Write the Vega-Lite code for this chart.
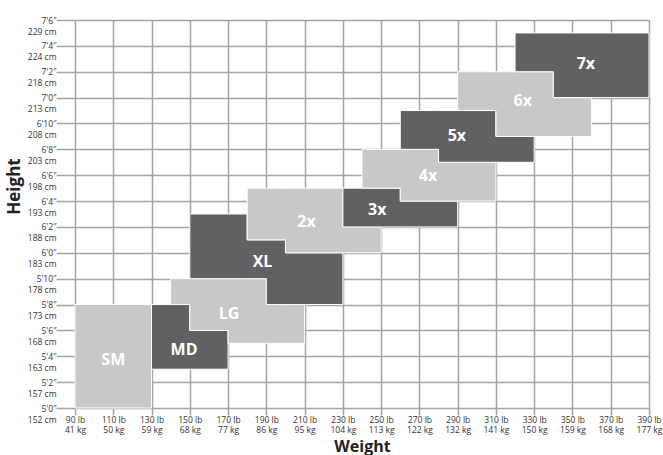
{
  "$schema": "https://vega.github.io/schema/vega-lite/v6.json",
  "width": 574,
  "height": 388,
  "autosize": "none",
  "padding": {"left": 75, "top": 20, "right": 14, "bottom": 47},
  "background": "white",
  "config": {"view": {"stroke": null}, "axis": {"labelOverlap": false, "labelBound": false, "labelFlush": false}},
  "datasets": {
    "shapes": [
      {"size": "SM", "tone": "light", "lb": 90, "top": 68, "bottom": 60},
      {"size": "SM", "tone": "light", "lb": 130, "top": 68, "bottom": 60},
      {"size": "MD", "tone": "dark", "lb": 130, "top": 68, "bottom": 63},
      {"size": "MD", "tone": "dark", "lb": 150, "top": 66, "bottom": 63},
      {"size": "MD", "tone": "dark", "lb": 170, "top": 66, "bottom": 63},
      {"size": "LG", "tone": "light", "lb": 140, "top": 70, "bottom": 68},
      {"size": "LG", "tone": "light", "lb": 150, "top": 70, "bottom": 66},
      {"size": "LG", "tone": "light", "lb": 170, "top": 70, "bottom": 65},
      {"size": "LG", "tone": "light", "lb": 190, "top": 68, "bottom": 65},
      {"size": "LG", "tone": "light", "lb": 210, "top": 68, "bottom": 65},
      {"size": "XL", "tone": "dark", "lb": 150, "top": 75, "bottom": 70},
      {"size": "XL", "tone": "dark", "lb": 180, "top": 73, "bottom": 70},
      {"size": "XL", "tone": "dark", "lb": 190, "top": 73, "bottom": 68},
      {"size": "XL", "tone": "dark", "lb": 200, "top": 72, "bottom": 68},
      {"size": "XL", "tone": "dark", "lb": 230, "top": 72, "bottom": 68},
      {"size": "2x", "tone": "light", "lb": 180, "top": 77, "bottom": 73},
      {"size": "2x", "tone": "light", "lb": 200, "top": 77, "bottom": 72},
      {"size": "2x", "tone": "light", "lb": 230, "top": 74, "bottom": 72},
      {"size": "2x", "tone": "light", "lb": 250, "top": 74, "bottom": 72},
      {"size": "3x", "tone": "dark", "lb": 230, "top": 77, "bottom": 74},
      {"size": "3x", "tone": "dark", "lb": 260, "top": 76, "bottom": 74},
      {"size": "3x", "tone": "dark", "lb": 290, "top": 76, "bottom": 74},
      {"size": "4x", "tone": "light", "lb": 240, "top": 80, "bottom": 77},
      {"size": "4x", "tone": "light", "lb": 260, "top": 80, "bottom": 76},
      {"size": "4x", "tone": "light", "lb": 280, "top": 79, "bottom": 76},
      {"size": "4x", "tone": "light", "lb": 310, "top": 79, "bottom": 76},
      {"size": "5x", "tone": "dark", "lb": 260, "top": 83, "bottom": 80},
      {"size": "5x", "tone": "dark", "lb": 280, "top": 83, "bottom": 79},
      {"size": "5x", "tone": "dark", "lb": 310, "top": 81, "bottom": 79},
      {"size": "5x", "tone": "dark", "lb": 330, "top": 81, "bottom": 79},
      {"size": "6x", "tone": "light", "lb": 290, "top": 86, "bottom": 83},
      {"size": "6x", "tone": "light", "lb": 310, "top": 86, "bottom": 81},
      {"size": "6x", "tone": "light", "lb": 340, "top": 84, "bottom": 81},
      {"size": "6x", "tone": "light", "lb": 360, "top": 84, "bottom": 81},
      {"size": "7x", "tone": "dark", "lb": 320, "top": 89, "bottom": 86},
      {"size": "7x", "tone": "dark", "lb": 340, "top": 89, "bottom": 84},
      {"size": "7x", "tone": "dark", "lb": 390, "top": 89, "bottom": 84}
    ],
    "labels": [
      {"size": "SM", "lb": 110, "top": 63.7},
      {"size": "MD", "lb": 147, "top": 64.5},
      {"size": "LG", "lb": 170.5, "top": 67.3},
      {"size": "XL", "lb": 188, "top": 71.3},
      {"size": "2x", "lb": 211, "top": 74.4},
      {"size": "3x", "lb": 248, "top": 75.3},
      {"size": "4x", "lb": 274.5, "top": 77.9},
      {"size": "5x", "lb": 289.6, "top": 81},
      {"size": "6x", "lb": 324, "top": 83.7},
      {"size": "7x", "lb": 357, "top": 86.6}
    ]
  },
  "encoding": {
    "x": {
      "field": "lb", "type": "quantitative",
      "scale": {"domain": [90, 390], "nice": false, "zero": false},
      "axis": {
        "values": [90, 110, 130, 150, 170, 190, 210, 230, 250, 270, 290, 310, 330, 350, 370, 390],
        "grid": true, "gridColor": "#a3a3a3", "gridWidth": 1.5,
        "domain": false, "tickColor": "#a3a3a3", "tickWidth": 1.5, "tickSize": 7,
        "labelExpr": "[datum.value + ' lb', round(datum.value * 0.45359237) + ' kg']",
        "labelFont": "Open Sans", "labelFontSize": 8.5, "labelColor": "#333333",
        "labelLineHeight": 10, "labelPadding": 0, "labelOverlap": false, "labelBound": false, "labelFlush": false,
        "title": "Weight", "titleFont": "Open Sans", "titleFontSize": 16, "titleFontWeight": "bold",
        "titleColor": "#222222", "titleBaseline": "alphabetic", "titleY": 43
      }
    },
    "y": {
      "field": "top", "type": "quantitative",
      "scale": {"domain": [60, 90], "nice": false, "zero": false},
      "axis": {
        "values": [60, 62, 64, 66, 68, 70, 72, 74, 76, 78, 80, 82, 84, 86, 88, 90],
        "grid": true, "gridColor": "#a3a3a3", "gridWidth": 1.5,
        "domain": false, "tickColor": "#a3a3a3", "tickWidth": 1.5, "tickSize": 19,
        "labelExpr": "[floor(datum.value / 12) + \"'\" + (datum.value % 12) + '″', round(datum.value * 2.54) + ' cm']",
        "labelFont": "Open Sans", "labelFontSize": 8.5, "labelColor": "#333333",
        "labelLineHeight": 11, "labelPadding": 0, "labelBaseline": "middle",
        "labelOverlap": false, "labelBound": false, "labelFlush": false,
        "title": "Height", "titleFont": "Open Sans", "titleFontSize": 17, "titleFontWeight": "bold",
        "titleColor": "#222222", "titleX": -52, "titleY": 166
      }
    }
  },
  "layer": [
    {
      "data": {"name": "shapes"},
      "mark": {"type": "area", "interpolate": "step-after", "stroke": "white", "strokeWidth": 1, "opacity": 1},
      "encoding": {
        "y2": {"field": "bottom"},
        "color": {
          "field": "tone", "type": "nominal",
          "scale": {"domain": ["light", "dark"], "range": ["#c8c8ca", "#616163"]},
          "legend": null
        },
        "detail": {"field": "size"}
      }
    },
    {
      "data": {"name": "labels"},
      "mark": {"type": "text", "font": "Open Sans", "fontWeight": "bold", "fontSize": 16, "color": "white"},
      "encoding": {
        "text": {"field": "size"}
      }
    }
  ]
}
